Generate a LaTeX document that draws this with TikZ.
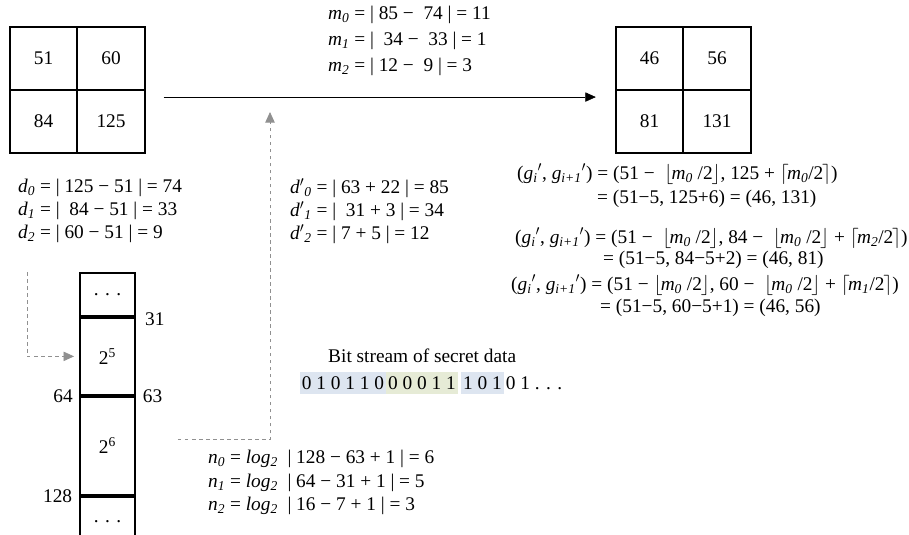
\documentclass[tikz,border=0pt]{standalone}
\usepackage{fontspec}
\setmainfont{Liberation Serif}
\usetikzlibrary{arrows.meta, positioning, calc}
\definecolor{bitblue}{HTML}{DDE5F0}
\definecolor{bitgreen}{HTML}{E6EBD6}
\definecolor{dashgray}{HTML}{909090}
\newcommand{\vsub}[2]{\textit{#1}\textsubscript{\textit{#2}}}
\newcommand{\dsub}[1]{\textit{d}$'$\textsubscript{\textit{#1}}}
\newcommand{\gpair}{(\vsub{g}{i}$'$, \vsub{g}{i+1}$'$)}
\newcommand{\flr}[1]{$\lfloor$\kern-1.5pt\vsub{m}{#1} /2\kern-1pt$\rfloor$}
\newcommand{\cel}[1]{$\lceil$\kern-1.5pt\vsub{m}{#1}/2\kern-1pt$\rceil$}

\begin{document}
\begin{tikzpicture}[x=0.03cm, y=-0.03cm, font=\fontsize{16.5}{19}\selectfont,
    cell/.style={rectangle, draw, line width=1.6pt, minimum width=2.025cm, minimum height=1.89cm, inner sep=0pt},
    bin/.style={rectangle, draw, line width=1.6pt, minimum width=1.65cm, minimum height=#1, inner sep=0pt},
    eq/.style={anchor=west, inner sep=0pt},
    tag/.style={inner sep=0pt},
    bits/.style={fill=#1, inner sep=1.5pt, minimum height=0.66cm},
    link/.style={-{Triangle[length=9pt, width=8pt]}, line width=0.5pt},
    dlink/.style={-{Triangle[length=9pt, width=8pt]}, dashed, dashgray, line width=0.7pt},
]
\useasboundingbox (0,0) rectangle (909,534);

% original block
\node[cell] (p11) at (43.5,58.5) {51};
\node[cell] (p12) at (111,58.5) {60};
\node[cell] (p21) at (43.5,121.5) {84};
\node[cell] (p22) at (111,121.5) {125};

% stego block
\node[cell] (q11) at (649.5,58.5) {46};
\node[cell] (q12) at (717,58.5) {56};
\node[cell] (q21) at (649.5,121.5) {81};
\node[cell] (q22) at (717,121.5) {131};

\draw[link] ($(p22.north east)+(18,8)$) -- ($(q21.north west)+(-19,8)$);

% range table
\node[bin=1.29cm] (b1) at (107.5,294.5) {. . .};
\node[bin=2.31cm, below=0pt of b1] (b2) {2\textsuperscript{5}};
\node[bin=2.94cm, below=0pt of b2] (b3) {2\textsuperscript{6}};
\node[bin=1.47cm, below=0pt of b3] (b4) {. . .};
\node[tag, right=0.27cm of b2.north east, yshift=-0.08cm] (l31) {31};
\node[tag, left=0.18cm of b3.north west] (l64) {64};
\node[tag, right=0.2cm of b3.north east] (l63) {63};
\node[tag, left=0.2cm of b4.north west] (l128) {128};

\coordinate (dtop) at (27,272);
\coordinate (dhead) at (270,112);
\draw[dlink, shorten >=0.15cm] (dtop) |- (b2.west);
\draw[dlink] ($(b3.east)+(42,-6)$) -| (dhead);

% equations
\node[eq] (m0) at (328,15) {\vsub{m}{0} = | 85 − \ 74 | = 11};
\node[eq] (m1) at (328,41) {\vsub{m}{1} = | \ 34 − \ 33 | = 1};
\node[eq] (m2) at (328,67) {\vsub{m}{2} = | 12 − \ 9 | = 3};

\node[eq] (d0) at (18,188) {\vsub{d}{0} = | 125 − 51 | = 74};
\node[eq] (d1) at (18,211) {\vsub{d}{1} = | \ 84 − 51 | = 33};
\node[eq] (d2) at (18,234) {\vsub{d}{2} = | 60 − 51 | = 9};

\node[eq] (e0) at (290,188) {\dsub{0} = | 63 + 22 | = 85};
\node[eq] (e1) at (290,211) {\dsub{1} = | \ 31 + 3 | = 34};
\node[eq] (e2) at (290,234) {\dsub{2} = | 7 + 5 | = 12};

\node[eq] (g0) at (517,174) {\gpair{} = (51 − \ \flr{0}, 125 + \cel{0})};
\node[eq] (g0b) at (597,199) {= (51−5, 125+6) = (46, 131)};
\node[eq] (g1) at (515,238) {\gpair{} = (51 − \ \flr{0}, 84 − \ \flr{0} + \cel{2})};
\node[eq] (g1b) at (603,260) {= (51−5, 84−5+2) = (46, 81)};
\node[eq] (g2) at (511,285) {\gpair{} = (51 − \flr{0}, 60 − \ \flr{0} + \cel{1})};
\node[eq] (g2b) at (600,308) {= (51−5, 60−5+1) = (46, 56)};

\node[eq] (n0) at (208,459) {\vsub{n}{0} = \vsub{log}{2} \ | 128 − 63 + 1 | = 6};
\node[eq] (n1) at (208,483) {\vsub{n}{1} = \vsub{log}{2} \ | 64 − 31 + 1 | = 5};
\node[eq] (n2) at (208,506) {\vsub{n}{2} = \vsub{log}{2} \ | 16 − 7 + 1 | = 3};

% secret bits
\node[eq] (bitlbl) at (328,356) {Bit stream of secret data};
\node[bits=bitblue, anchor=west] (s1) at (300,383) {0 1 0 1 1 0};
\node[bits=bitgreen, right=0pt of s1] (s2) {0 0 0 1 1};
\node[bits=bitblue, right=0.1cm of s2] (s3) {1 0 1};
\node[inner sep=1.5pt, right=0pt of s3] (s4) {0 1 . . .};
\end{tikzpicture}
\end{document}
